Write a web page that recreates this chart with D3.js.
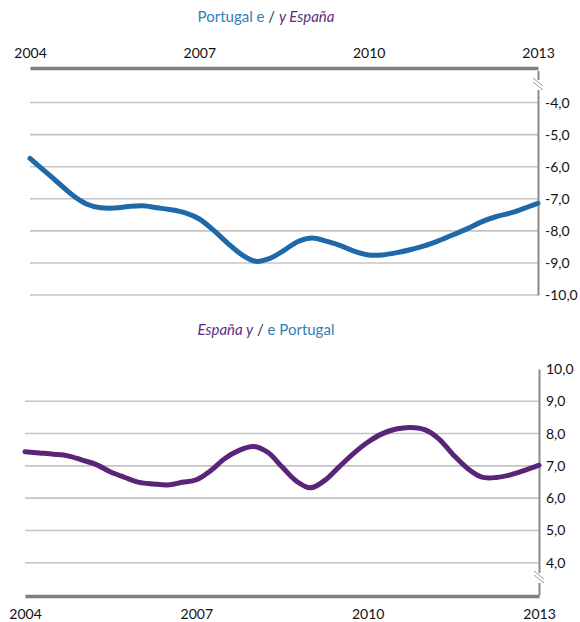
<!DOCTYPE html>
<html><head><meta charset="utf-8">
<script src="https://cdn.jsdelivr.net/npm/d3@7"></script>
<style>body{margin:0;background:#fff}svg{display:block}text{font-family:Lato,"Open Sans",sans-serif}</style>
</head><body><svg id="c" width="580" height="622"></svg>
<script>
const yearTicks = [2004, 2007, 2010, 2013];
const quarters = d3.range(0, 37).map(i => 2004 + i * 0.25);
const portugalValues = [-5.74,-6.12,-6.50,-6.88,-7.16,-7.28,-7.29,-7.24,-7.22,-7.28,-7.34,-7.44,-7.63,-7.98,-8.38,-8.74,-8.95,-8.86,-8.61,-8.33,-8.22,-8.32,-8.46,-8.64,-8.75,-8.75,-8.68,-8.58,-8.46,-8.30,-8.12,-7.93,-7.72,-7.56,-7.45,-7.30,-7.14];
const spainValues = [7.44,7.40,7.36,7.31,7.18,7.04,6.81,6.64,6.49,6.44,6.41,6.49,6.57,6.85,7.23,7.48,7.60,7.42,6.97,6.53,6.32,6.55,6.97,7.38,7.73,7.99,8.14,8.19,8.12,7.83,7.34,6.92,6.65,6.64,6.72,6.86,7.02];
const topTicks = [-4,-5,-6,-7,-8,-9,-10];
const bottomTicks = [4,5,6,7,8,9,10];
const fmt = v => d3.format(".1f")(v).replace(".", ",").replace("−","-");

const BLUE = "#1f69a8", PURPLE = "#5a2479", TBLUE = "#2f80bd", TPURPLE = "#5c2d83";
const svg = d3.select("#c");

function title(y, parts) {
  const t = svg.append("text").attr("x", 266).attr("y", y).attr("text-anchor", "middle").attr("font-size", 15);
  parts.forEach(p => t.append("tspan").text(p[0]).attr("fill", p[1]).attr("font-style", p[2] ? "italic" : "normal"));
}
title(22, [["Portugal e ", TBLUE], ["/ ", "#333"], ["y España", TPURPLE, true]]);
title(335, [["España y", TPURPLE, true], [" / ", "#333"], ["e Portugal", TBLUE]]);

function panel(o) {
  const x = d3.scaleLinear().domain([2004, 2013]).range([o.x0, o.x1]);
  const y = d3.scaleLinear().domain(o.domain).range(o.range);
  const g = svg.append("g");
  g.selectAll(".grid").data(o.grid).join("line")
    .attr("x1", o.x0).attr("x2", o.x1).attr("y1", d => y(d)).attr("y2", d => y(d))
    .attr("stroke", "#c4c4c4").attr("stroke-width", 1.6);
  const ya = d3.axisRight(y).tickValues(o.ticks).tickFormat(fmt).tickSize(0).tickPadding(7);
  const ag = g.append("g").attr("transform", `translate(${o.x1},0)`).call(ya);
  ag.select(".domain").attr("stroke", "#8a8a8a").attr("stroke-width", 2);
  ag.selectAll("text").attr("font-size", 14).attr("fill", "#111").attr("text-anchor", "start").attr("font-family", "Lato");
  const by = o.breakY;
  g.append("rect").attr("x", o.x1 - 3).attr("y", by - 5).attr("width", 6).attr("height", 10).attr("fill", "#fff");
  [-2, 2].forEach(d => g.append("line")
    .attr("x1", o.x1 - 5).attr("y1", by - 5 + d).attr("x2", o.x1 + 5).attr("y2", by + 3 + d)
    .attr("stroke", "#9a9a9a").attr("stroke-width", 1));
  const xa = (o.top ? d3.axisTop(x) : d3.axisBottom(x)).tickValues(yearTicks).tickFormat(d3.format("d")).tickSize(0).tickPadding(o.top ? 10 : 13);
  const xg = g.append("g").attr("transform", `translate(0,${o.axisY})`).call(xa);
  xg.select(".domain").attr("stroke", "#7f7f7f").attr("stroke-width", 3.5);
  xg.selectAll("text").attr("font-size", 14).attr("fill", "#111").attr("font-family", "Lato");
  const line = d3.line().x((d, i) => x(quarters[i])).y(d => y(d)).curve(d3.curveCatmullRom.alpha(0.5));
  g.append("path").datum(o.values).attr("d", line).attr("fill", "none")
    .attr("stroke", o.color).attr("stroke-width", 5).attr("stroke-linejoin", "round").attr("stroke-linecap", "round");
}

panel({x0: 30, x1: 538, domain: [-10, -3], range: [295, 70.5], grid: topTicks, ticks: topTicks,
  axisY: 68, top: true, breakY: 85, values: portugalValues, color: BLUE});
panel({x0: 25, x1: 539, domain: [3, 10], range: [595, 369], grid: bottomTicks.filter(d => d < 10), ticks: bottomTicks,
  axisY: 596, top: false, breakY: 578, values: spainValues, color: PURPLE});
</script></body></html>
